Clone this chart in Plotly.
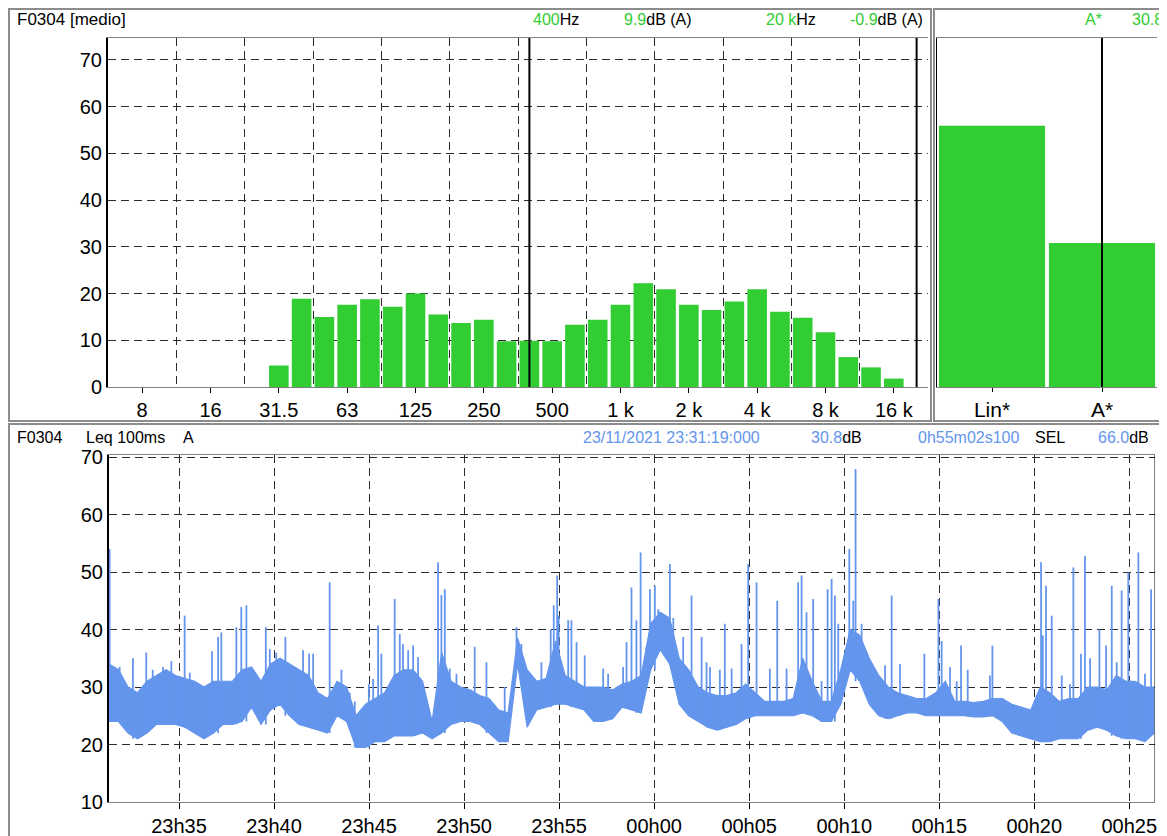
import numpy as np
import pandas as pd
import plotly.graph_objects as go

W, H = 1167, 836
OFF = 8  # page margin around the plot div

# 1/3 octave spectrum [medio], dB(A)
bands = ['8', '10', '12.5', '16', '20', '25', '31.5', '40', '50', '63', '80', '100',
         '125', '160', '200', '250', '315', '400', '500', '630', '800', '1 k', '1.25 k',
         '1.6 k', '2 k', '2.5 k', '3.15 k', '4 k', '5 k', '6.3 k', '8 k', '10 k',
         '12.5 k', '16 k', '20 k']
levels = [None, None, None, None, None, None,
          4.6, 18.9, 15.0, 17.6, 18.8, 17.2, 20.0, 15.5, 13.7, 14.4, 9.8, 9.9,
          9.8, 13.3, 14.4, 17.6, 22.2, 20.9, 17.6, 16.5, 18.3, 20.9, 16.1, 14.8,
          11.7, 6.4, 4.2, 1.8, -0.9]
octave_labels = ['8', '16', '31.5', '63', '125', '250', '500', '1 k', '2 k', '4 k', '8 k', '16 k']

# global levels
glob_names = ['Lin*', 'A*']
glob_levels = [55.9, 30.8]

# Leq 100ms A time history, envelope read every 30 s (minutes from 23:31:19)
env_low = [24, 24, 22, 21, 22, 23.5, 23.5, 23.5, 23, 22,
           21, 22, 23.5, 23.5, 24, 26.5, 23.5, 26, 27, 25,
           23.5, 23, 22.5, 22, 25, 24, 19.5, 19.5, 20.5, 20.5,
           21.5, 21.5, 21.5, 22, 21, 22, 23.5, 24, 24, 23.5,
           22, 20.5, 20.5, 34, 23, 26, 26.5, 27, 27, 26.5,
           26, 24, 24, 24.5, 26.5, 26, 25.5, 33, 36.5, 34,
           27, 25, 24, 23, 22.5, 23, 23.5, 24.5, 25, 25,
           25, 25, 25, 25.5, 25, 24, 24, 27, 33, 31,
           27, 25, 24.5, 25, 25.5, 25.5, 25, 25, 25, 25,
           25, 24.8, 24.8, 25, 24, 22, 21.5, 21, 20.5, 20.5,
           21, 21, 21, 22.5, 23, 22.5, 21.5, 21, 21, 20.5, 22]
env_high = [34, 33, 30, 29, 31, 32, 33, 32, 31.5, 31,
            30, 31, 31, 31, 33, 33.5, 31, 34, 35, 34,
            33, 32, 29, 28, 31, 30, 25, 27, 28, 29,
            32, 33, 33, 31, 24, 36, 31, 30, 29.5, 28.5,
            28, 26, 25.5, 38.5, 33, 31, 31.5, 38, 32, 31,
            30, 30, 30, 29.5, 30.5, 31, 32, 41, 43, 42,
            35, 33, 30, 29, 28.5, 28.5, 29, 30.5, 29, 27.5,
            27.5, 27.5, 28, 35, 31, 27.5, 27.5, 33, 40, 39,
            35, 32, 30, 29, 28.5, 28, 28, 29, 31, 27.5,
            27.5, 27.3, 27.5, 28, 28, 27, 26.5, 26, 30, 29,
            27.5, 28, 28, 30, 30, 29.5, 32, 31, 31, 30, 30]

# short events (minutes from start, peak dB)
spike_t = [0.03, 0.56, 1.26, 1.96, 2.3, 2.84, 3.28, 3.98, 4.25, 5.42, 5.74, 5.91,
           6.7, 6.96, 7.23, 8.25, 8.46, 8.8, 9.28, 10.21, 10.53, 10.74, 11.61, 12.23,
           12.67, 12.93, 13.67, 13.9, 14.16, 14.33, 15.03, 15.3, 15.47, 15.74, 16.0,
           16.26, 17.31, 17.49, 17.67, 17.93, 18.28, 19.24, 19.86, 20.82, 21.44, 21.7,
           22.75, 23.24, 23.4, 23.58, 23.66, 24.16, 24.33, 24.6, 25.03, 26.0, 26.26,
           27.05, 27.23, 27.49, 27.75, 27.97, 28.28, 28.46, 28.72, 28.9, 29.51, 29.69,
           30.21, 30.65, 31.18, 31.44, 31.62, 32.14, 32.4, 32.76, 33.28, 33.63, 34.07,
           34.77, 35.16, 35.65, 36.26, 36.44, 36.7, 37.05, 37.49, 37.81, 38.02, 38.19,
           38.37, 38.95, 39.16, 39.28, 39.6, 40.83, 41.18, 41.62, 42.9, 43.64, 43.81,
           44.25, 44.6, 44.83, 45.18, 46.35, 46.48, 49.04, 49.13, 49.3, 49.6, 50.13,
           50.56, 50.74, 51.14, 51.35, 51.62, 52.11, 52.46, 52.76, 53.02, 53.28, 53.63,
           54.16, 54.51, 54.83]
spike_db = [54, 33.5, 35, 36, 33, 33.5, 34.5, 42.4, 32.5, 36.2, 38.7, 39.5,
            40.4, 43.9, 44.2, 40.4, 36.6, 36, 38.7, 36.4, 35.8, 35.8, 48.2, 33,
            29, 27.5, 30.5, 31.4, 40.7, 35.8, 45.3, 39.2, 37.5, 36.4, 37.2,
            35.2, 51.7, 46, 47, 33.2, 32.3, 37, 34.3, 30, 40.4, 37.5,
            34.3, 40, 44.2, 49.4, 42.4, 41.6, 41.6, 37.8, 35.5, 33.2, 32.3,
            33.5, 37.8, 47.3, 41.6, 53.4, 37, 47, 47.6, 43.5, 51.4, 42,
            38.7, 45.9, 38.7, 34.3, 33.5, 33, 41, 33.2, 37.5, 51.4, 48.2,
            33.2, 45, 33.2, 48.2, 49.4, 43, 45.3, 31, 47, 48.8, 45.9,
            41, 54, 45, 67.9, 41, 33.8, 45.9, 34, 35.8, 45.3, 38,
            33.5, 31, 37.2, 33, 32, 37.2, 51.7, 39, 47.6, 42.4, 32,
            30.5, 50.8, 35.8, 52.8, 35, 40, 37.2, 47.6, 34.3, 46.8, 49.9,
            53.4, 32.3, 47]

GREEN = '#32cd32'
BLUE = '#6495ed'
FONT = 'Liberation Sans, Arial'
GRID = '#2a2a2a'


def px(x):
    return (x - OFF) / W


def py(y):
    return 1 - (y - OFF) / H


start = pd.Timestamp('2021-11-23 23:31:19')
end = start + pd.Timedelta(minutes=55, seconds=2.1)
t_env = np.arange(len(env_low)) * 0.5
x_env = start + pd.to_timedelta(t_env, unit='m')

sx, sy = [], []
for t, p in zip(spike_t, spike_db):
    ts = start + pd.Timedelta(minutes=t)
    base = env_low[int(round(t * 2))]
    sx += [ts, ts, None]
    sy += [base, p, None]

fig = go.Figure()

fig.add_trace(go.Bar(x=list(range(len(bands))), y=levels, width=0.86,
                     marker=dict(color=GREEN, line=dict(width=0)),
                     xaxis='x', yaxis='y'))
fig.add_trace(go.Bar(x=[0, 1], y=glob_levels, width=0.965,
                     marker=dict(color=GREEN, line=dict(width=0)),
                     xaxis='x2', yaxis='y2'))

fig.add_trace(go.Scatter(x=x_env, y=env_low, mode='lines',
                         line=dict(color=BLUE, width=1.2),
                         xaxis='x3', yaxis='y3'))
fig.add_trace(go.Scatter(x=x_env, y=env_high, mode='lines', fill='tonexty',
                         fillcolor=BLUE, line=dict(color=BLUE, width=1.2),
                         xaxis='x3', yaxis='y3'))
fig.add_trace(go.Scatter(x=sx, y=sy, mode='lines',
                         line=dict(color=BLUE, width=1.8),
                         xaxis='x3', yaxis='y3'))

tick_font = dict(family=FONT, size=20, color='black')
dash = '8px,5px'

fig.update_layout(
    width=W, height=H, margin=dict(l=0, r=0, t=0, b=0, autoexpand=False),
    paper_bgcolor='white', plot_bgcolor='white', showlegend=False,
    font=dict(family=FONT, color='black'),
    xaxis=dict(domain=[px(108), px(928)], range=[-1.5, 34.5], anchor='y',
               automargin=False,
               tickmode='array', tickvals=list(range(0, 34, 3)), ticktext=octave_labels,
               ticks='outside', ticklen=5, tickcolor='black', tickfont=tick_font,
               showgrid=False, zeroline=False,
               showline=True, linecolor='#808080', linewidth=1, mirror=True,
               minor=dict(tickmode='array', tickvals=[1.5 + 3 * i for i in range(11)],
                          showgrid=True, gridcolor=GRID, griddash=dash, gridwidth=1,
                          ticklen=0)),
    yaxis=dict(domain=[py(387), py(38)], range=[0, 74.7], anchor='x',
               automargin=False,
               tickmode='array', tickvals=list(range(0, 71, 10)),
               tickfont=tick_font, ticks='', showgrid=True, gridcolor=GRID,
               griddash=dash, gridwidth=1, zeroline=False,
               showline=True, linecolor='black', linewidth=2),
    xaxis2=dict(domain=[px(937), px(1157)], range=[-0.5, 1.5], anchor='y2',
                automargin=False,
                tickmode='array', tickvals=[0, 1], ticktext=glob_names,
                ticks='outside', ticklen=4, tickcolor='black',
                tickfont=dict(family=FONT, size=21, color='black'),
                showgrid=False, zeroline=False,
                showline=True, linecolor='#808080', linewidth=1, mirror=True),
    yaxis2=dict(domain=[py(387), py(38)], range=[0, 74.7], anchor='x2',
                automargin=False, showticklabels=False,
                showgrid=False, zeroline=False, ticks='',
                showline=True, linecolor='black', linewidth=1),
    xaxis3=dict(domain=[px(109), px(1155)], type='date', range=[start, end],
                anchor='y3', automargin=False,
                tick0='2021-11-23 23:35:00', dtick=300000, tickformat='%Hh%M',
                ticks='outside', ticklen=6, tickcolor='black', tickfont=tick_font,
                showgrid=True, gridcolor=GRID, griddash=dash, gridwidth=1,
                zeroline=False, showline=True, linecolor='#808080', linewidth=1,
                mirror=True),
    yaxis3=dict(domain=[py(802), py(455)], range=[10, 70.35], anchor='x3',
                automargin=False,
                tickmode='array', tickvals=list(range(10, 71, 10)),
                tickfont=tick_font, ticks='', showgrid=True, gridcolor=GRID,
                griddash=dash, gridwidth=1, zeroline=False,
                showline=True, linecolor='black', linewidth=2),
)

# panel frames
for x0, x1, y0, y1 in [(9, 931, 9, 421), (934, 1161, 9, 421), (9, 1161, 424, 850)]:
    fig.add_shape(type='rect', xref='paper', yref='paper', layer='below',
                  x0=px(x0), x1=px(x1), y0=py(y1), y1=py(y0),
                  line=dict(color='#8c8c8c', width=2))

# cursors
for xv in [17, 34]:
    fig.add_shape(type='line', xref='x', yref='y domain', x0=xv, x1=xv, y0=0, y1=1,
                  line=dict(color='black', width=2))
fig.add_shape(type='line', xref='x2', yref='y2 domain', x0=1, x1=1, y0=0, y1=1,
              line=dict(color='black', width=2))
fig.add_shape(type='line', xref='x3', yref='y3 domain', x0=end, x1=end, y0=0, y1=1,
              line=dict(color='black', width=1))


def g(s):
    return f"<span style='color:{GREEN}'>{s}</span>"


def b(s):
    return f"<span style='color:{BLUE}'>{s}</span>"


headers = [
    ('F0304 [medio]', 15, 20, 'left', 17),
    (g('400') + 'Hz', 531, 20, 'left', 16),
    (g('9.9') + 'dB (A)', 622, 20, 'left', 16),
    (g('20 k') + 'Hz', 764, 20, 'left', 16),
    (g('-0.9') + 'dB (A)', 925, 20, 'right', 16),
    (g('A*'), 1083, 20, 'left', 16),
    (g('30.8'), 1130, 20, 'left', 16),
    ('F0304', 15, 438, 'left', 16),
    ('Leq 100ms', 84, 438, 'left', 16),
    ('A', 181, 438, 'left', 16),
    (b('23/11/2021 23:31:19:000'), 581, 438, 'left', 16),
    (b('30.8') + 'dB', 809, 438, 'left', 16),
    (b('0h55m02s100'), 1022, 438, 'right', 16),
    ('SEL', 1033, 438, 'left', 16),
    (b('66.0') + 'dB', 1151, 438, 'right', 16),
]
for text, x, y, anchor, size in headers:
    fig.add_annotation(text=text, x=px(x), y=py(y), xref='paper', yref='paper',
                       xanchor=anchor, yanchor='middle', showarrow=False,
                       font=dict(family=FONT, size=size, color='black'))

fig.write_html("out.html")
